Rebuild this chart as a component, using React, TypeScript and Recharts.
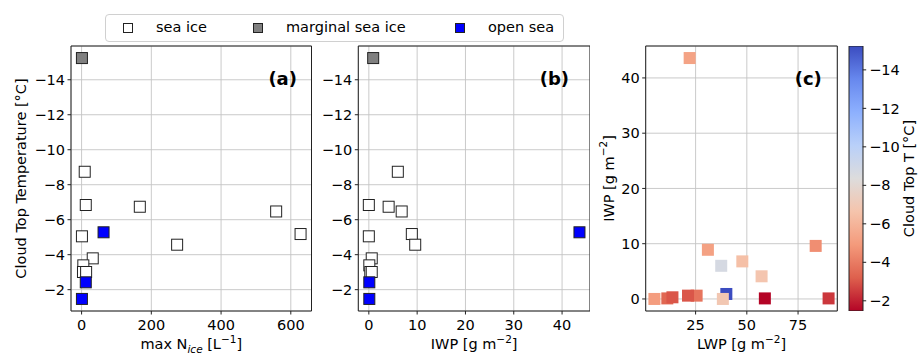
import React from "react";
import { ScatterChart, Scatter, BarChart, Bar, XAxis, YAxis, CartesianGrid, ReferenceArea, Legend } from "recharts";

// one entry per cloud case
const cloudTopT = [-15.24, -8.74, -6.84, -6.74, -6.47, -5.18, -5.05, -4.57, -3.79, -3.39, -3.01, -3.01, -2.42, -1.47, -5.28];
const maxNice = [1, 9, 12, 167, 558, 628, 1, 274, 32, 5, 4, 13, 12, 1, 63];
const iwpValues = [0.9, 6.0, 0.0, 4.1, 6.8, 8.9, 0.0, 9.6, 0.6, 0.1, 0.3, 0.6, 0.1, 0.1, 43.6];
const lwpValues = [40.0, 37.5, 38.3, 57.2, 47.8, 31.0, 4.9, 83.6, 25.5, 11.2, 13.7, 21.3, 89.9, 58.8, 22.1];
const surfaceType = [
  "marginal sea ice", "sea ice", "sea ice", "sea ice", "sea ice", "sea ice", "sea ice", "sea ice",
  "sea ice", "sea ice", "sea ice", "sea ice", "open sea", "open sea", "open sea",
];

const surfaceNames = ["sea ice", "marginal sea ice", "open sea"];
const surfaceFills = ["#ffffff", "#808080", "#0000ff"];

const tTicks = [-14, -12, -10, -8, -6, -4, -2];
const nTicks = [0, 200, 400, 600];
const iwpTicks = [0, 10, 20, 30, 40];
const lwpTicks = [25, 50, 75];

const tDomain = [-15.93, -0.78];
const nDomain = [-30.35, 659.35];
const iwpDomain = [-2.18, 45.78];
const lwpDomain = [0.65, 94.15];
const tMin = Math.min(...cloudTopT);
const tMax = Math.max(...cloudTopT);

const points = cloudTopT.map((t, i) => ({
  t,
  n: maxNice[i],
  iwp: iwpValues[i],
  lwp: lwpValues[i],
  surface: surfaceType[i],
}));

const colorbarData = [{ name: "T", range: [tMin, tMax] }];

// matplotlib coolwarm
const coolwarm: [number, number[]][] = [
  [0, [59, 76, 192]],
  [0.125, [103, 136, 238]],
  [0.25, [141, 176, 254]],
  [0.375, [185, 208, 249]],
  [0.5, [221, 220, 220]],
  [0.625, [245, 196, 172]],
  [0.75, [244, 154, 123]],
  [0.875, [222, 96, 77]],
  [1, [180, 4, 38]],
];

function cmap(v: number) {
  const f = Math.max(0, Math.min(1, (v - tMin) / (tMax - tMin)));
  for (let k = 1; k < coolwarm.length; k++) {
    const [p1, c1] = coolwarm[k];
    const [p0, c0] = coolwarm[k - 1];
    if (f <= p1) {
      const a = (f - p0) / (p1 - p0);
      const c = c0.map((x, j) => Math.round(x + (c1[j] - x) * a));
      return `rgb(${c[0]},${c[1]},${c[2]})`;
    }
  }
  return "rgb(180,4,38)";
}

const FONT = "DejaVu Sans";
const INK = "#222";
const tickStyle = { fill: "#000", fontSize: 14.5, fontFamily: FONT };
const titleStyle = { fill: "#000", fontSize: 14.5, fontFamily: FONT };
const fmt = (v: number) => (v < 0 ? "\u2212" + Math.abs(v) : String(v));

const sup = (s: string) => (
  <>
    <tspan dy={-6} fontSize={10.5}>{s}</tspan>
    <tspan dy={6}>]</tspan>
  </>
);

const xTitle = (content: React.ReactNode) => (props: any) => {
  const vb = props.viewBox;
  return (
    <text x={vb.x + vb.width / 2} y={vb.y + 38} textAnchor="middle" style={titleStyle}>
      {content}
    </text>
  );
};

const yTitle = (content: React.ReactNode, dx: number) => (props: any) => {
  const vb = props.viewBox;
  const cx = vb.x + dx;
  const cy = vb.y + vb.height / 2;
  return (
    <text x={cx} y={cy} transform={`rotate(-90 ${cx} ${cy})`} textAnchor="middle" dominantBaseline="central" style={titleStyle}>
      {content}
    </text>
  );
};

const panelTag = (tag: string, fromRight: number) => (props: any) => {
  const vb = props.viewBox;
  return (
    <text x={vb.x + vb.width - fromRight} y={vb.y + 39} textAnchor="end" style={{ fill: "#000", fontSize: 18, fontWeight: 700, fontFamily: FONT }}>
      {tag}
    </text>
  );
};

const squareShape = (fill: string) => (p: any) => (
  <rect x={p.cx - 5.5} y={p.cy - 5.5} width={11} height={11} fill={fill} stroke={INK} strokeWidth={1} />
);

const colorShape = (p: any) => (
  <rect x={p.cx - 6} y={p.cy - 6} width={12} height={12} fill={cmap(p.payload.t)} />
);

const legendMarkerX = [22, 152, 354];
const legendTextX = [50, 180, 382];

function LegendBox() {
  return (
    <div style={{ position: "relative", width: 459, height: 28, boxSizing: "border-box", border: "1px solid #d0d0d0", borderRadius: 4, background: "#fff", fontFamily: FONT, fontSize: 14.5 }}>
      {surfaceNames.map((name, i) => (
        <React.Fragment key={name}>
          <div style={{ position: "absolute", left: legendMarkerX[i] - 5, top: 8, width: 10, height: 10, boxSizing: "border-box", background: surfaceFills[i], border: `1px solid ${INK}` }} />
          <span style={{ position: "absolute", left: legendTextX[i], top: 4, lineHeight: "17px", whiteSpace: "nowrap" }}>{name}</span>
        </React.Fragment>
      ))}
    </div>
  );
}

function TempPanel(props: {
  width: number; rightMargin: number; yWidth: number; xKey: string; xDomain: number[]; xTicks: number[];
  xLabel: React.ReactNode; yLabel?: React.ReactNode; tag: string; tagRight: number; legend?: boolean;
}) {
  return (
    <ScatterChart width={props.width} height={355} margin={{ top: 46, right: props.rightMargin, bottom: 0, left: 0 }}>
      <CartesianGrid stroke="#c4c4c4" strokeWidth={0.9} />
      <XAxis type="number" dataKey={props.xKey} domain={props.xDomain} ticks={props.xTicks} height={44}
        axisLine={false} tickLine={{ stroke: INK }} tickSize={3.5} tickMargin={5} tick={tickStyle}
        label={{ content: xTitle(props.xLabel) }} />
      <YAxis type="number" dataKey="t" domain={tDomain} ticks={tTicks} reversed width={props.yWidth}
        axisLine={false} tickLine={{ stroke: INK }} tickSize={3.5} tickMargin={2.5} tick={tickStyle} tickFormatter={fmt}
        label={props.yLabel ? { content: yTitle(props.yLabel, 21) } : undefined} />
      <ReferenceArea x1={props.xDomain[0]} x2={props.xDomain[1]} y1={tDomain[0]} y2={tDomain[1]}
        fill="none" stroke={INK} strokeWidth={1} fillOpacity={0} label={{ content: panelTag(props.tag, props.tagRight) }} />
      {surfaceNames.map((name, i) => (
        <Scatter key={name} name={name} data={points.filter((p) => p.surface === name)}
          shape={squareShape(surfaceFills[i])} isAnimationActive={false} />
      ))}
      {props.legend && (
        <Legend layout="vertical" align="center" verticalAlign="middle" content={() => <LegendBox />}
          wrapperStyle={{ left: 105, top: 14, width: 459, height: 28 }} />
      )}
    </ScatterChart>
  );
}

export default function App() {
  return (
    <div style={{ position: "absolute", left: 0, top: 0, width: 920, height: 355, background: "#fff", overflow: "hidden", fontFamily: FONT }}>
      <div style={{ position: "absolute", left: 320, top: 0 }}>
        <TempPanel width={270} rightMargin={0} yWidth={38.3} xKey="iwp" xDomain={iwpDomain} xTicks={iwpTicks}
          xLabel={<>IWP [g m{sup("\u22122")}</>} tag="(b)" tagRight={21} />
      </div>
      <div style={{ position: "absolute", left: 0, top: 0 }}>
        <TempPanel width={320} rightMargin={8.5} yWidth={71} xKey="n" xDomain={nDomain} xTicks={nTicks}
          xLabel={<>max N<tspan dy={4} fontSize={10.5} fontStyle="italic">ice</tspan><tspan dy={-4}> [L</tspan>{sup("\u22121")}</>}
          yLabel="Cloud Top Temperature [°C]" tag="(a)" tagRight={14.5} legend />
      </div>
      <div style={{ position: "absolute", left: 590, top: 0 }}>
        <ScatterChart width={250} height={355} margin={{ top: 46, right: 2.7, bottom: 0, left: 0 }}>
          <CartesianGrid stroke="#c4c4c4" strokeWidth={0.9} />
          <XAxis type="number" dataKey="lwp" domain={lwpDomain} ticks={lwpTicks} height={44}
            axisLine={false} tickLine={{ stroke: INK }} tickSize={3.5} tickMargin={5} tick={tickStyle}
            label={{ content: xTitle(<>LWP [g m{sup("\u22122")}</>) }} />
          <YAxis type="number" dataKey="iwp" domain={iwpDomain} ticks={iwpTicks} width={55.7}
            axisLine={false} tickLine={{ stroke: INK }} tickSize={3.5} tickMargin={2.5} tick={tickStyle}
            label={{ content: yTitle(<>IWP [g m{sup("\u22122")}</>, 18.5) }} />
          <ReferenceArea x1={lwpDomain[0]} x2={lwpDomain[1]} y1={iwpDomain[0]} y2={iwpDomain[1]}
            fill="none" stroke={INK} strokeWidth={1} fillOpacity={0} label={{ content: panelTag("(c)", 15.5) }} />
          <Scatter data={points} shape={colorShape} isAnimationActive={false} />
        </ScatterChart>
      </div>
      <div style={{ position: "absolute", left: 840, top: 0 }}>
        <BarChart width={80} height={355} data={colorbarData} barCategoryGap={0} margin={{ top: 46, right: 0, bottom: 44, left: 9 }}>
          <defs>
            <linearGradient id="coolwarmBar" x1="0" y1="0" x2="0" y2="1">
              {coolwarm.map(([p, c]) => (
                <stop key={p} offset={p} stopColor={`rgb(${c[0]},${c[1]},${c[2]})`} />
              ))}
            </linearGradient>
          </defs>
          <XAxis type="category" dataKey="name" hide />
          <YAxis type="number" orientation="right" domain={[tMin, tMax]} ticks={tTicks} reversed width={57.3}
            allowDataOverflow axisLine={false} tickLine={{ stroke: INK }} tickSize={3.5} tickMargin={3} tick={tickStyle} tickFormatter={fmt}
            label={{ content: yTitle("Cloud Top T [°C]", 46.3) }} />
          <Bar dataKey="range" fill="url(#coolwarmBar)" stroke={INK} strokeWidth={1} isAnimationActive={false} />
        </BarChart>
      </div>
    </div>
  );
}
